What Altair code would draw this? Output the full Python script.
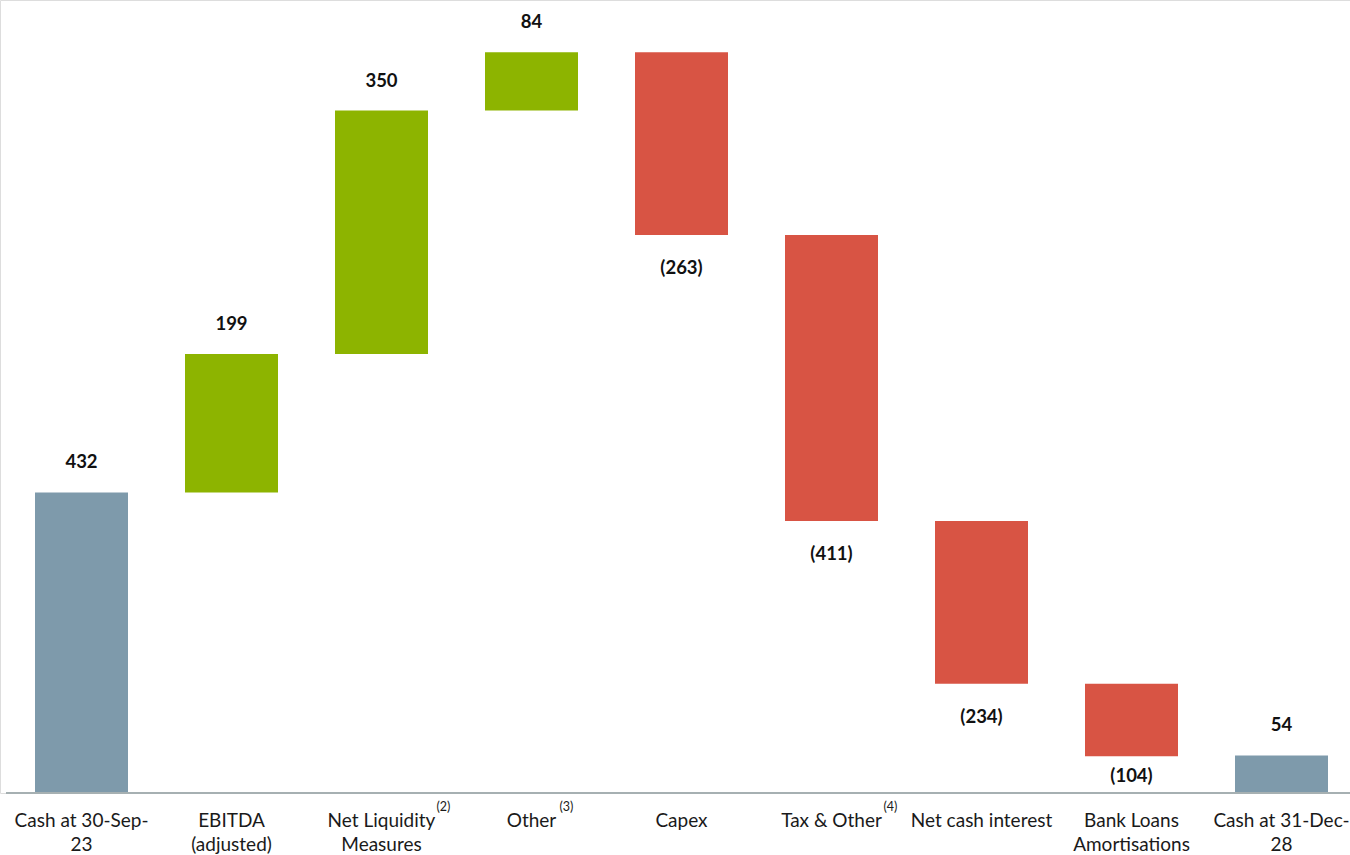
import altair as alt
import pandas as pd

# ---- data ----
categories = ["Cash at 30-Sep-\n23", "EBITDA\n(adjusted)", "Net Liquidity\nMeasures", "Other",
              "Capex", "Tax & Other", "Net cash interest", "Bank Loans\nAmortisations",
              "Cash at 31-Dec-\n28"]
values = [432, 199, 350, 84, -263, -411, -234, -104, 54]
kinds = ["total", "up", "up", "up", "down", "down", "down", "down", "total"]
footnote_idx = [2, 3, 5]
footnote_marks = ["(2)", "(3)", "(4)"]

# ---- build table ----
rows = []
running = 0
for i, (c, v, k) in enumerate(zip(categories, values, kinds)):
    if k == "total":
        start, end = 0, v
        running = v
    else:
        start, end = running, running + v
        running = end
    label = f"({abs(v)})" if v < 0 else f"{v}"
    rows.append(dict(idx=i, cat=c, start=start, end=end, kind=k, label=label,
                     top=max(start, end), bottom=min(start, end), neg=int(v < 0), zero=0))
df = pd.DataFrame(rows)
df["x0"] = df["idx"] - 0.31
df["x1"] = df["idx"] + 0.31

fn = pd.DataFrame({"idx": footnote_idx, "mark": footnote_marks, "zero": 0})

# layout offsets (pixels)
sup_dx = {"(2)": 55, "(3)": 28, "(4)": 52}
tight_label_idx = 7   # label squeezed between bar and axis

W, H = 1350, 793
xs = alt.Scale(domain=[-81.5 / 150, (W - 81.5) / 150], nice=False, zero=False)
ys = alt.Scale(domain=[0, 1140], nice=False, zero=False)
FONT = "Lato"

def XI():
    return alt.X("idx:Q", scale=xs, axis=None)

base = alt.Chart(df)

bars = base.mark_bar().encode(
    x=alt.X("x0:Q", scale=xs, axis=None), x2="x1:Q",
    y=alt.Y("start:Q", scale=ys, axis=None), y2="end:Q",
    color=alt.Color("kind:N", scale=alt.Scale(domain=["total", "up", "down"],
                                             range=["#7E9AAB", "#8DB400", "#D85444"]),
                    legend=None),
)

val_style = dict(font=FONT, fontSize=18.5, fontWeight="bold", color="#111111",
                 baseline="alphabetic")

pos_labels = base.transform_filter("datum.neg == 0").mark_text(dy=-24, **val_style).encode(
    x=XI(), y=alt.Y("top:Q", scale=ys, axis=None), text="label:N")

neg_labels = base.transform_filter(
    f"datum.neg == 1 && datum.idx != {tight_label_idx}").mark_text(dy=39, **val_style).encode(
    x=XI(), y=alt.Y("bottom:Q", scale=ys, axis=None), text="label:N")

neg_tight = base.transform_filter(
    f"datum.idx == {tight_label_idx}").mark_text(dy=26, **val_style).encode(
    x=XI(), y=alt.Y("bottom:Q", scale=ys, axis=None), text="label:N")

cat_labels = base.mark_text(
    font=FONT, fontSize=19, color="#1A1A1A", baseline="alphabetic", dy=34,
    lineBreak="\n", lineHeight=24).encode(
    x=XI(), y=alt.Y("zero:Q", scale=ys, axis=None), text="cat:N")

sups = []
for m, d in sup_dx.items():
    sups.append(alt.Chart(fn).transform_filter(f"datum.mark == '{m}'").mark_text(
        font=FONT, fontSize=12.5, color="#1A1A1A", align="left", baseline="alphabetic",
        dx=d, dy=18).encode(
        x=XI(), y=alt.Y("zero:Q", scale=ys, axis=None), text="mark:N"))

axis_line = base.mark_rule(color="#A6B0B2", strokeWidth=2).encode(
    y=alt.Y("zero:Q", scale=ys, axis=None), x=alt.value(6), x2=alt.value(W))

chart = alt.layer(bars, axis_line, pos_labels, neg_labels, neg_tight, cat_labels, *sups).properties(
    width=W, height=H,
    autosize=alt.AutoSizeParams(type="none"),
    padding={"left": 0, "top": 0, "right": 0, "bottom": 62},
).configure_view(stroke=None).configure(background="white")

chart.save("out.html", embed_options={"renderer": "svg", "actions": False})
